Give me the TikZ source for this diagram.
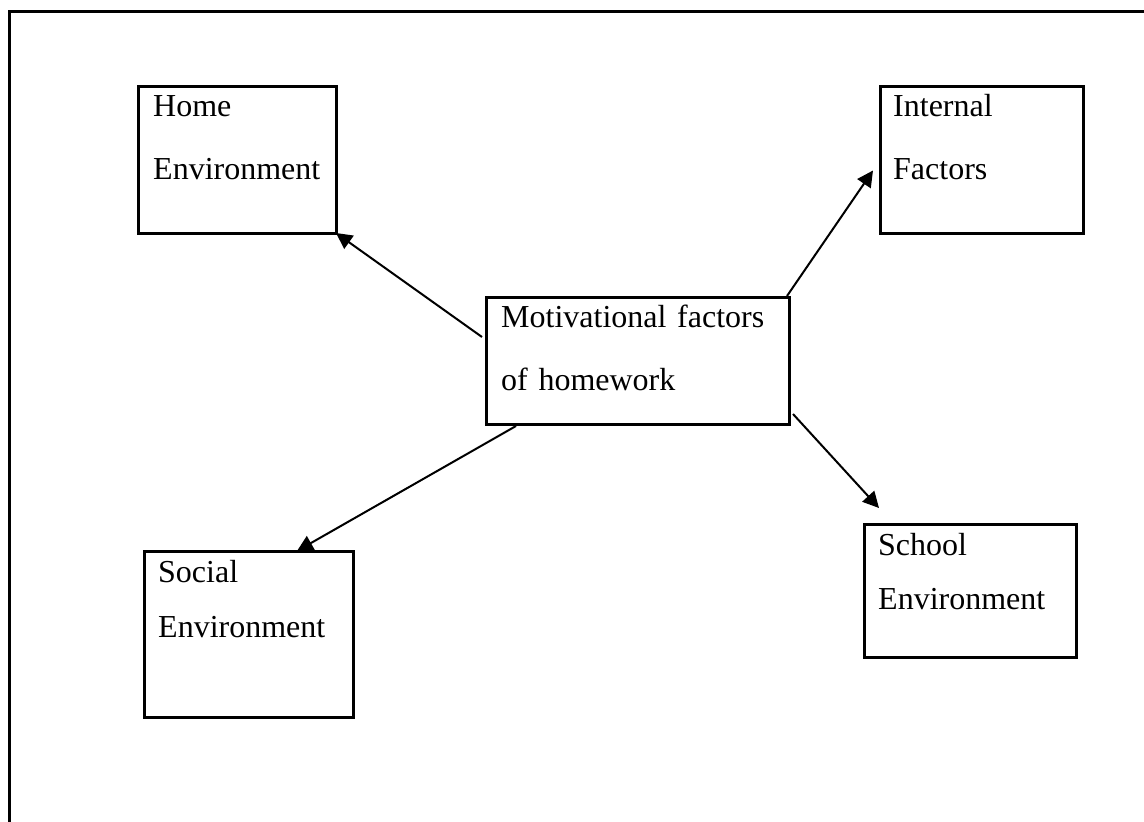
\documentclass[tikz,border=0pt]{standalone}
\usepackage{fontspec}
\setmainfont{Liberation Serif}
\usetikzlibrary{arrows.meta}

\begin{document}
\begin{tikzpicture}[x=1pt,y=-1pt]
\tikzstyle{factor}=[draw,rectangle,line width=3pt,outer sep=0pt,inner sep=0pt,anchor=north west]
\tikzstyle{boxtext}=[anchor=base west,inner sep=0pt,text width=12cm,align=left,font=\fontsize{32}{63}\selectfont]
\tikzstyle{link}=[line width=2pt,-{Triangle[length=16pt,width=16pt]}]

% Page size
\useasboundingbox (0,0) rectangle (1144,822);

% Open frame along the top and left
\coordinate (frame-right) at (1150,11);
\coordinate (frame-corner) at (9,11);
\coordinate (frame-bottom) at (9,830);
\draw[line width=3pt] (frame-right) -- (frame-corner) -- (frame-bottom);

% The centre box
\node[factor, minimum width=303, minimum height=127] (main) at (486,297) {};
\node[boxtext] (main-text) at ([shift={(15,30)}]main.north west) {Motivational factors\\of homework};

% The four factor boxes
\node[factor, minimum width=198, minimum height=147] (home) at (138,86) {};
\node[boxtext] (home-text) at ([shift={(15,30)}]home.north west) {Home\\Environment};

\node[factor, minimum width=203, minimum height=147] (internal) at (880,86) {};
\node[boxtext] (internal-text) at ([shift={(13,30)}]internal.north west) {Internal\\Factors};

\node[factor, minimum width=209, minimum height=166] (social) at (144,551) {};
\node[boxtext, font=\fontsize{32}{55}\selectfont] (social-text) at ([shift={(14,31)}]social.north west) {Social\\Environment};

\node[factor, minimum width=212, minimum height=133] (school) at (864,524) {};
\node[boxtext, font=\fontsize{32}{54}\selectfont] (school-text) at ([shift={(14,31)}]school.north west) {School\\Environment};

% Arrows from the centre box out to each factor
\draw[link] ([shift={(-4,40)}]main.north west) -- (home.south east);
\draw[link] ([shift={(-2,-1)}]main.north east) -- ([shift={(-7,11)}]internal.west);
\draw[link] ([shift={(30,2)}]main.south west) -- ([shift={(-56,0)}]social.north east);
\draw[link] ([shift={(4,-10)}]main.south east) -- ([shift={(15,-16)}]school.north west);

\end{tikzpicture}
\end{document}
